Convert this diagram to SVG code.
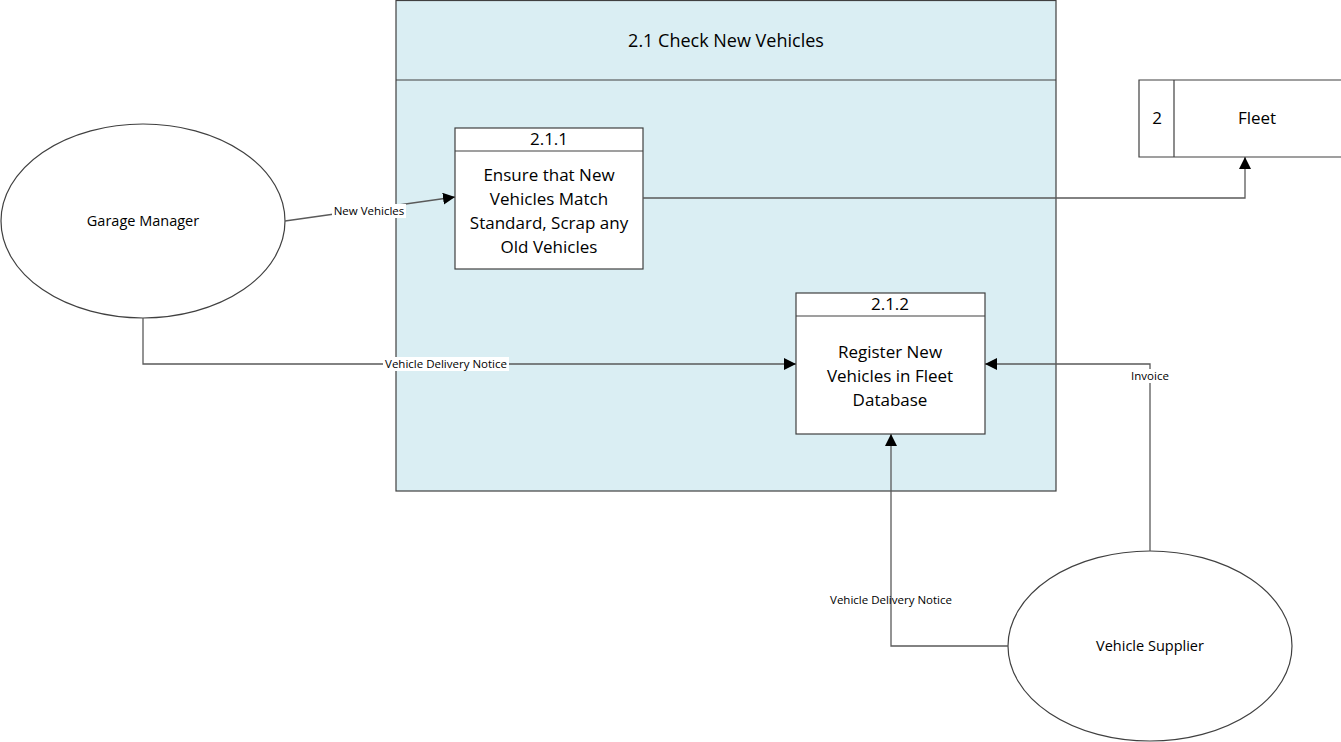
<svg xmlns="http://www.w3.org/2000/svg" width="1341" height="742" viewBox="0 0 1341 742">
<style>
.ln{fill:none;stroke:#5a5a5a;stroke-width:1.3}
.bx{fill:#fff;stroke:#404040;stroke-width:1.2}
.t{font-family:"Open Sans","Liberation Sans",sans-serif;fill:#000;text-anchor:middle}
.big{font-size:17px}
.sm{font-size:11.5px}
.lbl{fill:#fff}
</style>
<defs>
<marker id="ar" viewBox="0 0 10 10" refX="10" refY="5" markerWidth="12" markerHeight="12" markerUnits="userSpaceOnUse" orient="auto">
<path d="M0,0 L10,5 L0,10 Z" fill="#000"/>
</marker>
</defs>
<rect width="1341" height="742" fill="#fff"/>
<g id="process-2-1">
<rect x="396" y="0.5" width="660" height="490.5" fill="#DAEEF3" stroke="#404040" stroke-width="1.2"/>
<line x1="396" y1="80" x2="1056" y2="80" stroke="#404040" stroke-width="1.2"/>
<text class="t" font-size="18" x="726" y="47">2.1 Check New Vehicles</text>
</g>
<g id="p211">
<rect class="bx" x="455" y="128" width="188" height="141"/>
<line x1="455" y1="151" x2="643" y2="151" stroke="#404040" stroke-width="1.2"/>
<text class="t big" x="549" y="145">2.1.1</text>
<text class="t big" x="549" y="181">Ensure that New</text>
<text class="t big" x="549" y="205">Vehicles Match</text>
<text class="t big" x="549" y="229">Standard, Scrap any</text>
<text class="t big" x="549" y="253">Old Vehicles</text>
</g>
<g id="p212">
<rect class="bx" x="796" y="293" width="189" height="141"/>
<line x1="796" y1="316" x2="985" y2="316" stroke="#404040" stroke-width="1.2"/>
<text class="t big" x="890" y="310">2.1.2</text>
<text class="t big" x="890" y="358">Register New</text>
<text class="t big" x="890" y="382">Vehicles in Fleet</text>
<text class="t big" x="890" y="406">Database</text>
</g>
<g id="fleet">
<path d="M1341,80 H1139 V157 H1341" class="bx" fill="#fff"/>
<line x1="1174" y1="80" x2="1174" y2="157" stroke="#404040" stroke-width="1.2"/>
<text class="t big" x="1157" y="124">2</text>
<text class="t big" x="1257" y="124">Fleet</text>
</g>
<g id="garage-manager">
<ellipse cx="143" cy="221" rx="142" ry="97" class="bx"/>
<text class="t" font-size="14.5" x="143" y="226">Garage Manager</text>
</g>
<g id="vehicle-supplier">
<ellipse cx="1150" cy="646" rx="142" ry="95" class="bx"/>
<text class="t" font-size="14.5" x="1150" y="651">Vehicle Supplier</text>
</g>
<g id="connectors">
<line class="ln" x1="285" y1="221" x2="455" y2="197" marker-end="url(#ar)"/>
<path class="ln" d="M143,318 V364 H796" marker-end="url(#ar)"/>
<path class="ln" d="M643,198 H1245 V157" marker-end="url(#ar)"/>
<path class="ln" d="M1150,551 V364 H985" marker-end="url(#ar)"/>
<path class="ln" d="M1008,646 H891 V434" marker-end="url(#ar)"/>
<rect class="lbl" x="332" y="204" width="74" height="14"/>
<text class="t sm" x="369" y="215">New Vehicles</text>
<rect class="lbl" x="383" y="357" width="126" height="14"/>
<text class="t sm" x="446" y="368">Vehicle Delivery Notice</text>
<rect class="lbl" x="1130" y="369" width="40" height="14"/>
<text class="t sm" x="1150" y="380">Invoice</text>
<text class="t sm" x="891" y="604">Vehicle Delivery Notice</text>
</g>
</svg>
